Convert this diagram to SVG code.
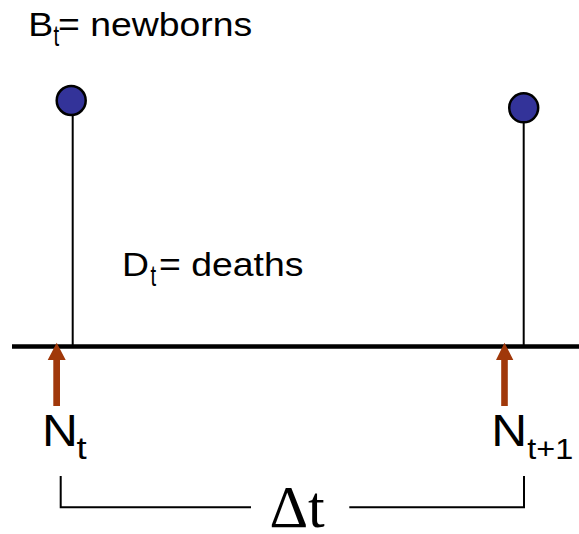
<svg xmlns="http://www.w3.org/2000/svg" width="579" height="534" viewBox="0 0 579 534">
  <style>
    .lbl { font-family: "Liberation Sans", Arial, sans-serif; fill: #000; }
    .ser { font-family: "Liberation Serif", "Times New Roman", serif; fill: #000; }
    .dot { fill: #333399; stroke: #000; stroke-width: 2.5; }
    .stem { stroke: #000; stroke-width: 2; fill: none; }
    .arrow { fill: #A0380A; }
  </style>
  <rect width="579" height="534" fill="#fff"/>
  <g id="connectors">
    <line id="axis" x1="12" y1="346.5" x2="579" y2="346.5" stroke="#000" stroke-width="4.5"/>
    <line class="stem" x1="72.7" y1="115" x2="72.7" y2="345"/>
    <line class="stem" x1="523.7" y1="122" x2="523.7" y2="345"/>
    <path class="arrow" d="M56.7,342.7 L65.7,360 L60,360 L60,406 L53.3,406 L53.3,360 L47.7,360 Z"/>
    <path class="arrow" d="M504.5,342.7 L513.3,360 L507.8,360 L507.8,406 L501.2,406 L501.2,360 L496,360 Z"/>
    <path class="stem" d="M60.7,476 V507.3 H251 M349.3,507.3 H524 V476"/>
  </g>
  <g id="birth-left"><circle class="dot" cx="71.2" cy="100.5" r="14.5"/></g>
  <g id="birth-right"><circle class="dot" cx="523.7" cy="107.8" r="14.5"/></g>
  <g id="label-B">
    <text class="lbl" font-size="32.5" transform="translate(28.3,36) scale(1.15,1)">B</text>
    <text class="lbl" font-size="29" transform="translate(53.5,46) scale(0.7,1)">t</text>
    <text class="lbl" font-size="32.5" transform="translate(58,36) scale(1.15,1)">= newborns</text>
  </g>
  <g id="label-D">
    <text class="lbl" font-size="32.5" transform="translate(122,276) scale(1.15,1)">D</text>
    <text class="lbl" font-size="29" transform="translate(150.5,286) scale(0.7,1)">t</text>
    <text class="lbl" font-size="32.5" transform="translate(159,276) scale(1.15,1)">= deaths</text>
  </g>
  <g id="label-Nt">
    <text class="lbl" font-size="44" transform="translate(42,446) scale(1.13,1)">N</text>
    <text class="lbl" font-size="30.5" transform="translate(76.5,459) scale(1.2,1)">t</text>
  </g>
  <g id="label-Nt1">
    <text class="lbl" font-size="44" transform="translate(491.3,446) scale(1.13,1)">N</text>
    <text class="lbl" font-size="30" transform="translate(527.3,459) scale(1.08,1)">t+1</text>
  </g>
  <g id="label-dt">
    <text class="ser" font-size="60" x="269.5" y="527">Δt</text>
  </g>
</svg>
